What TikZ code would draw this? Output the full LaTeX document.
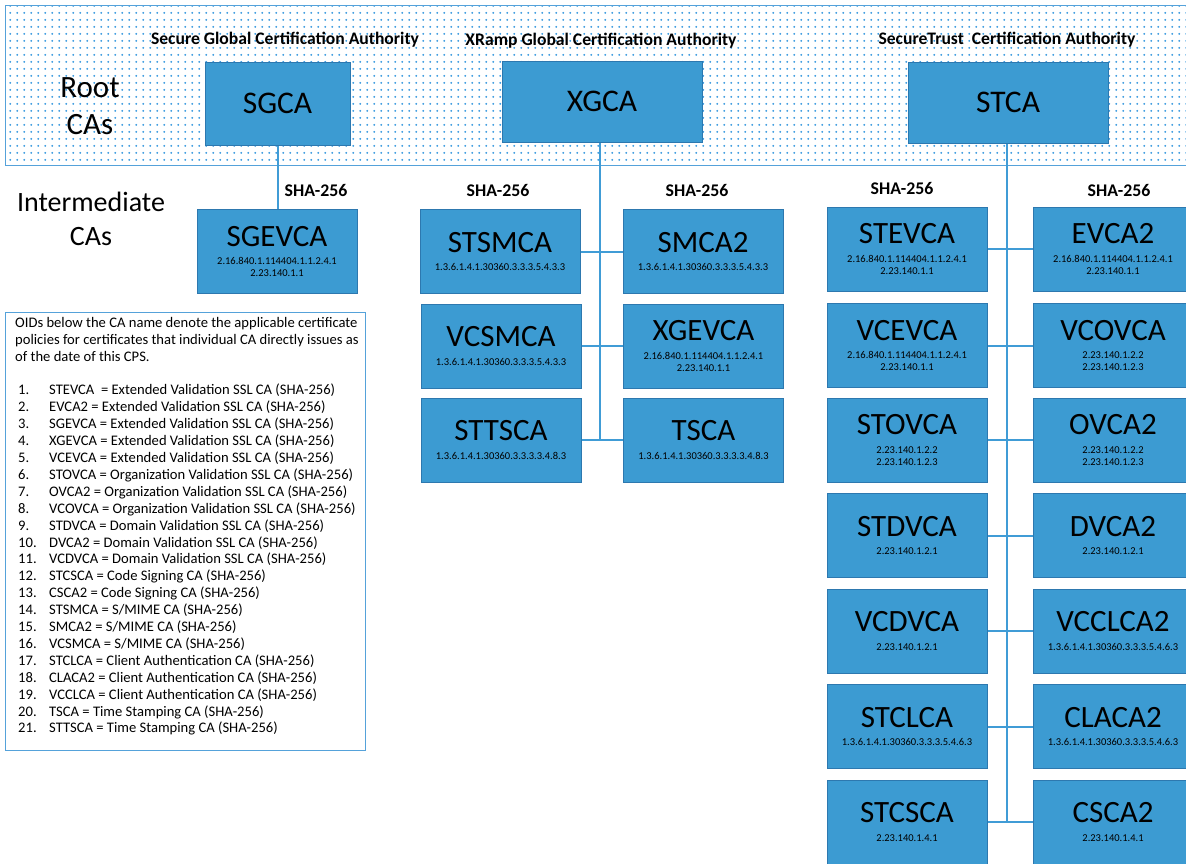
\documentclass[tikz,border=0pt]{standalone}
\usepackage{fontspec}
\setmainfont{Carlito}
\usetikzlibrary{patterns.meta}
\definecolor{boxfill}{RGB}{60,155,210}
\definecolor{boxline}{RGB}{45,120,175}
\definecolor{connc}{RGB}{64,156,214}
\definecolor{dotblue}{RGB}{50,150,222}
\definecolor{frameblue}{RGB}{85,162,218}
\tikzdeclarepattern{
  name=rootdots,
  type=uncolored,
  bounding box={(0pt,0pt) and (6.7pt,7pt)},
  tile size={(6.7pt,7pt)},
  code={\fill (3.35pt,3.5pt) circle (1.1pt);}
}
\newcommand\cabody[2]{\parbox{156pt}{\centering\fontsize{31}{31}\selectfont #1\par\vspace{6.5pt}\fontsize{10.5}{12}\selectfont #2\par}}
\tikzset{
  cabox/.style={draw=boxline, line width=1pt, fill=boxfill, minimum width=160pt, minimum height=84pt, inner sep=0pt, align=center},
  rootbox/.style={draw=boxline, line width=1pt, fill=boxfill, inner sep=0pt, font=\fontsize{31.5}{31.5}\selectfont},
  conn/.style={draw=connc, line width=2pt},
  hashlbl/.style={font=\bfseries\fontsize{17.8}{18}\selectfont, inner sep=0pt},
  titlelbl/.style={font=\bfseries\fontsize{17.6}{18}\selectfont, inner sep=0pt},
  biglbl/.style={align=center, inner sep=0pt}
}
\begin{document}
\begin{tikzpicture}[x=1pt,y=-1pt]
\useasboundingbox (0,0) rectangle (1186,863);
\fill[white] (0,0) rectangle (1186,863);
% root region
\fill[pattern=rootdots, pattern color=dotblue] (5,5) rectangle (1195,165);
\draw[frameblue, line width=1pt] (5,5) rectangle (1195,165);
\node[biglbl, font=\fontsize{31}{37}\selectfont] (rootlbl) at (90,106) {Root\\CAs};
\node[biglbl, font=\fontsize{28}{34}\selectfont] (intlbl) at (91,219) {Intermediate\\CAs};
% titles
\node[titlelbl] (t1) at (285,40) {Secure Global Certification Authority};
\node[titlelbl] (t2) at (601,41) {XRamp Global Certification Authority};
\node[titlelbl] (t3) at (1007,40) {SecureTrust\ \ Certification Authority};
% root boxes
\node[rootbox, minimum width=145pt, minimum height=83pt] (SGCA) at (277.5,103.5) {SGCA};
\node[rootbox, minimum width=200pt, minimum height=81pt] (XGCA) at (602,101.5) {XGCA};
\node[rootbox, minimum width=200pt, minimum height=81pt] (STCA) at (1008,102.5) {STCA};
% SHA labels
\node[hashlbl] (h1) at (316,190) {SHA-256};
\node[hashlbl] (h2) at (498,190) {SHA-256};
\node[hashlbl] (h3) at (697,190) {SHA-256};
\node[hashlbl] (h4) at (902,188) {SHA-256};
\node[hashlbl] (h5) at (1119,190) {SHA-256};
\coordinate (xbus) at (600,440);
\coordinate (sbus) at (1007,822);
% SGCA group
\node[cabox] (SGEVCA) at (277,251.5) {\cabody{SGEVCA}{2.16.840.1.114404.1.1.2.4.1\\2.23.140.1.1}};
% XGCA group
\node[cabox] (STSMCA) at (500,251.5) {\cabody{STSMCA}{1.3.6.1.4.1.30360.3.3.3.5.4.3.3}};
\node[cabox] (SMCA2) at (703,251.5) {\cabody{SMCA2}{1.3.6.1.4.1.30360.3.3.3.5.4.3.3}};
\node[cabox] (VCSMCA) at (501,346) {\cabody{VCSMCA}{1.3.6.1.4.1.30360.3.3.3.5.4.3.3}};
\node[cabox] (XGEVCA) at (703.5,346) {\cabody{XGEVCA}{2.16.840.1.114404.1.1.2.4.1\\2.23.140.1.1}};
\node[cabox] (STTSCA) at (501,440) {\cabody{STTSCA}{1.3.6.1.4.1.30360.3.3.3.3.4.8.3}};
\node[cabox] (TSCA) at (703.5,440) {\cabody{TSCA}{1.3.6.1.4.1.30360.3.3.3.3.4.8.3}};
% STCA group
\node[cabox] (STEVCA) at (907,249) {\cabody{STEVCA}{2.16.840.1.114404.1.1.2.4.1\\2.23.140.1.1}};
\node[cabox] (EVCA2) at (1113,249) {\cabody{EVCA2}{2.16.840.1.114404.1.1.2.4.1\\2.23.140.1.1}};
\node[cabox] (VCEVCA) at (907,345.5) {\cabody{VCEVCA}{2.16.840.1.114404.1.1.2.4.1\\2.23.140.1.1}};
\node[cabox] (VCOVCA) at (1113,345.5) {\cabody{VCOVCA}{2.23.140.1.2.2\\2.23.140.1.2.3}};
\node[cabox] (STOVCA) at (907,440) {\cabody{STOVCA}{2.23.140.1.2.2\\2.23.140.1.2.3}};
\node[cabox] (OVCA2) at (1113,440) {\cabody{OVCA2}{2.23.140.1.2.2\\2.23.140.1.2.3}};
\node[cabox] (STDVCA) at (907,535.5) {\cabody{STDVCA}{2.23.140.1.2.1}};
\node[cabox] (DVCA2) at (1113,535.5) {\cabody{DVCA2}{2.23.140.1.2.1}};
\node[cabox] (VCDVCA) at (907,631) {\cabody{VCDVCA}{2.23.140.1.2.1}};
\node[cabox] (VCCLCA2) at (1113,631) {\cabody{VCCLCA2}{1.3.6.1.4.1.30360.3.3.3.5.4.6.3}};
\node[cabox] (STCLCA) at (907,726.5) {\cabody{STCLCA}{1.3.6.1.4.1.30360.3.3.3.5.4.6.3}};
\node[cabox] (CLACA2) at (1113,726.5) {\cabody{CLACA2}{1.3.6.1.4.1.30360.3.3.3.5.4.6.3}};
\node[cabox] (STCSCA) at (907,822) {\cabody{STCSCA}{2.23.140.1.4.1}};
\node[cabox] (CSCA2) at (1113,822) {\cabody{CSCA2}{2.23.140.1.4.1}};
% connectors
\draw[conn] (SGCA.south) -- (SGCA.south |- SGEVCA.north);
\draw[conn] (XGCA.south -| xbus) -- (xbus);
\draw[conn] (STSMCA.east) -- (SMCA2.west);
\draw[conn] (VCSMCA.east) -- (XGEVCA.west);
\draw[conn] (STTSCA.east) -- (TSCA.west);
\draw[conn] (STCA.south -| sbus) -- (sbus);
\draw[conn] (STEVCA.east) -- (EVCA2.west);
\draw[conn] (VCEVCA.east) -- (VCOVCA.west);
\draw[conn] (STOVCA.east) -- (OVCA2.west);
\draw[conn] (STDVCA.east) -- (DVCA2.west);
\draw[conn] (VCDVCA.east) -- (VCCLCA2.west);
\draw[conn] (STCLCA.east) -- (CLACA2.west);
\draw[conn] (STCSCA.east) -- (CSCA2.west);
% legend
\draw[frameblue, line width=1pt] (5,312) rectangle (365,750);
\node[anchor=north west, inner sep=0pt, align=left, font=\fontsize{14.6}{16.9}\selectfont] (legend) at (15,317) {%
OIDs below the CA name denote the applicable certificate\\
policies for certificates that individual CA directly issues as\\
of the date of this CPS.\\[16.9pt]
\makebox[34pt][l]{\hspace{3pt}1.}STEVCA\ \ = Extended Validation SSL CA (SHA-256)\\
\makebox[34pt][l]{\hspace{3pt}2.}EVCA2 = Extended Validation SSL CA (SHA-256)\\
\makebox[34pt][l]{\hspace{3pt}3.}SGEVCA = Extended Validation SSL CA (SHA-256)\\
\makebox[34pt][l]{\hspace{3pt}4.}XGEVCA = Extended Validation SSL CA (SHA-256)\\
\makebox[34pt][l]{\hspace{3pt}5.}VCEVCA = Extended Validation SSL CA (SHA-256)\\
\makebox[34pt][l]{\hspace{3pt}6.}STOVCA = Organization Validation SSL CA (SHA-256)\\
\makebox[34pt][l]{\hspace{3pt}7.}OVCA2 = Organization Validation SSL CA (SHA-256)\\
\makebox[34pt][l]{\hspace{3pt}8.}VCOVCA = Organization Validation SSL CA (SHA-256)\\
\makebox[34pt][l]{\hspace{3pt}9.}STDVCA = Domain Validation SSL CA (SHA-256)\\
\makebox[34pt][l]{\hspace{3pt}10.}DVCA2 = Domain Validation SSL CA (SHA-256)\\
\makebox[34pt][l]{\hspace{3pt}11.}VCDVCA = Domain Validation SSL CA (SHA-256)\\
\makebox[34pt][l]{\hspace{3pt}12.}STCSCA = Code Signing CA (SHA-256)\\
\makebox[34pt][l]{\hspace{3pt}13.}CSCA2 = Code Signing CA (SHA-256)\\
\makebox[34pt][l]{\hspace{3pt}14.}STSMCA = S/MIME CA (SHA-256)\\
\makebox[34pt][l]{\hspace{3pt}15.}SMCA2 = S/MIME CA (SHA-256)\\
\makebox[34pt][l]{\hspace{3pt}16.}VCSMCA = S/MIME CA (SHA-256)\\
\makebox[34pt][l]{\hspace{3pt}17.}STCLCA = Client Authentication CA (SHA-256)\\
\makebox[34pt][l]{\hspace{3pt}18.}CLACA2 = Client Authentication CA (SHA-256)\\
\makebox[34pt][l]{\hspace{3pt}19.}VCCLCA = Client Authentication CA (SHA-256)\\
\makebox[34pt][l]{\hspace{3pt}20.}TSCA = Time Stamping CA (SHA-256)\\
\makebox[34pt][l]{\hspace{3pt}21.}STTSCA = Time Stamping CA (SHA-256)};
\end{tikzpicture}
\end{document}
